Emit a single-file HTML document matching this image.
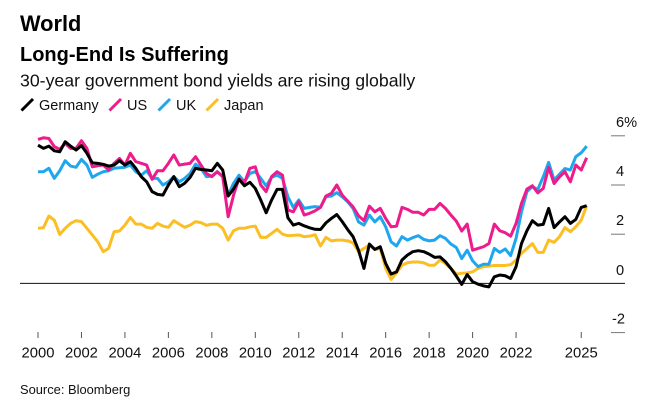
<!DOCTYPE html>
<html lang="en">
<head>
<meta charset="utf-8">
<title>Long-End Is Suffering</title>
<style>
html,body{margin:0;padding:0;background:#fff;width:667px;height:406px;overflow:hidden}
svg{display:block;font-family:"Liberation Sans",Arial,sans-serif}
text{fill:#111}
</style>
</head>
<body>
<svg id="chart" width="667" height="406" viewBox="0 0 667 406" xmlns="http://www.w3.org/2000/svg">
  <rect width="667" height="406" fill="#fff"/>
  <text x="20" y="31" font-size="21.8" font-weight="700" style="fill:#000">World</text>
  <text x="20" y="61" font-size="20" font-weight="700" style="fill:#000">Long-End Is Suffering</text>
  <text x="20" y="86.5" font-size="17.7">30-year government bond yields are rising globally</text>
  <g>
    <line x1="21.5" y1="110.5" x2="33" y2="99" stroke="#000" stroke-width="3"/>
    <text x="39" y="110" font-size="14.5">Germany</text>
    <line x1="109.5" y1="110.5" x2="121" y2="99" stroke="#ee1b8c" stroke-width="3"/>
    <text x="127" y="110" font-size="14.5">US</text>
    <line x1="158.5" y1="110.5" x2="170" y2="99" stroke="#1ea7ee" stroke-width="3"/>
    <text x="176" y="110" font-size="14.5">UK</text>
    <line x1="206.5" y1="110.5" x2="218" y2="99" stroke="#fbbf24" stroke-width="3"/>
    <text x="224" y="110" font-size="14.5">Japan</text>
  </g>
  <text x="20" y="394" font-size="12.9">Source: Bloomberg</text>
  <g id="axes"></g>
  <g id="series"></g>
</svg>
<script>
const startYear = 2000;
const pointsPerYear = 4;
const xTickYears = [2000,2002,2004,2006,2008,2010,2012,2014,2016,2018,2020,2022,2025];
const yTickValues = [6,4,2,-2];
const yTickLabels = ["6%","4","2","-2"];
const germany = [5.62,5.49,5.58,5.39,5.35,5.76,5.58,5.42,5.6,5.29,4.9,4.88,4.84,4.77,4.81,4.99,4.81,4.95,4.68,4.34,4.13,3.73,3.62,3.59,4.0,4.34,3.93,4.07,4.31,4.68,4.63,4.61,4.58,4.88,4.61,3.55,3.84,4.23,3.97,4.11,3.86,3.39,2.87,3.39,3.82,3.82,2.67,2.37,2.44,2.34,2.26,2.2,2.19,2.46,2.64,2.8,2.51,2.19,1.9,1.35,0.61,1.6,1.38,1.49,0.81,0.38,0.47,0.95,1.15,1.29,1.33,1.29,1.19,1.06,1.08,0.88,0.61,0.3,-0.04,0.36,0.07,-0.03,-0.1,-0.14,0.27,0.34,0.31,0.2,0.68,1.62,2.14,2.55,2.37,2.4,3.05,2.27,2.5,2.71,2.44,2.6,3.09,3.16];
const us = [5.85,5.92,5.89,5.56,5.45,5.69,5.49,5.49,5.8,5.49,4.74,4.78,4.81,4.61,4.88,5.08,4.81,5.29,4.95,4.88,4.81,4.23,4.58,4.58,4.88,5.22,4.81,4.85,4.88,5.15,4.81,4.47,4.34,4.54,4.34,2.71,3.59,4.27,4.09,4.68,4.74,4.0,3.73,4.34,4.54,4.4,2.98,2.91,3.32,2.78,2.85,2.95,3.09,3.55,3.66,4.0,3.59,3.35,3.11,2.75,2.55,3.14,2.91,3.05,2.64,2.3,2.33,3.09,3.01,2.89,2.89,2.78,3.01,3.01,3.25,3.05,2.78,2.53,2.13,2.41,1.35,1.42,1.49,1.62,2.41,2.14,2.06,1.92,2.44,3.25,3.83,3.97,3.68,3.86,4.72,4.06,4.33,4.54,4.13,4.81,4.61,5.11];
const uk = [4.54,4.54,4.68,4.27,4.58,4.99,4.77,4.72,5.04,4.81,4.31,4.44,4.54,4.58,4.68,4.7,4.72,4.81,4.54,4.4,4.58,4.27,4.27,4.0,4.13,4.34,4.13,4.27,4.47,4.85,4.68,4.34,4.36,4.54,4.34,3.59,4.07,4.4,4.13,4.47,4.54,4.27,3.96,4.31,4.4,4.27,3.52,3.09,3.39,3.05,3.09,3.12,3.09,3.52,3.55,3.69,3.52,3.32,3.05,2.5,2.37,2.78,2.5,2.71,2.3,1.69,1.52,1.9,1.76,1.86,1.94,1.79,1.73,1.76,1.94,1.83,1.6,1.46,1.01,1.35,0.92,0.68,0.78,0.78,1.42,1.26,1.4,1.13,1.83,2.91,3.73,3.93,3.82,4.33,4.92,4.2,4.44,4.67,4.61,5.15,5.31,5.58];
const japan = [2.24,2.26,2.74,2.57,1.99,2.24,2.44,2.55,2.51,2.24,1.97,1.69,1.29,1.42,2.1,2.13,2.37,2.68,2.41,2.41,2.28,2.24,2.44,2.33,2.28,2.55,2.41,2.28,2.37,2.51,2.47,2.36,2.41,2.41,2.24,1.76,2.14,2.24,2.24,2.3,2.33,1.87,1.87,2.03,2.2,2.0,1.94,1.95,1.97,1.9,1.92,1.98,1.52,1.87,1.73,1.76,1.76,1.73,1.65,1.29,1.42,1.56,1.38,1.42,0.61,0.16,0.43,0.74,0.84,0.87,0.87,0.84,0.74,0.74,0.95,0.81,0.61,0.38,0.41,0.43,0.47,0.61,0.68,0.7,0.73,0.73,0.73,0.76,0.95,1.22,1.42,1.62,1.26,1.26,1.76,1.67,1.9,2.27,2.1,2.3,2.57,3.16];

const NS = "http://www.w3.org/2000/svg";
function xScale(year){ return 38 + (year - startYear) * 21.73; }
function yScale(value){ return 283.4 - value * 24.6; }
function pathFor(values){
  return values.map(function(v, i){
    const year = startYear + i / pointsPerYear;
    return (i ? "L" : "M") + xScale(year).toFixed(2) + " " + yScale(v).toFixed(2);
  }).join(" ");
}

const axes = document.getElementById("axes");
const seriesLayer = document.getElementById("series");

xTickYears.forEach(function(year){
  const tick = document.createElementNS(NS, "line");
  tick.setAttribute("x1", xScale(year));
  tick.setAttribute("x2", xScale(year));
  tick.setAttribute("y1", 332);
  tick.setAttribute("y2", 338);
  tick.setAttribute("stroke", "#555");
  tick.setAttribute("stroke-width", "1");
  
  
  axes.appendChild(tick);
  const label = document.createElementNS(NS, "text");
  label.setAttribute("x", xScale(year));
  label.setAttribute("y", 357.5);
  label.setAttribute("font-size", "14.8");
  label.setAttribute("text-anchor", "middle");
  label.textContent = String(year);
  
  
  axes.appendChild(label);
});

yTickValues.forEach(function(value, i){
  const tick = document.createElementNS(NS, "line");
  tick.setAttribute("x1", 611);
  tick.setAttribute("x2", 625);
  tick.setAttribute("y1", yScale(value));
  tick.setAttribute("y2", yScale(value));
  tick.setAttribute("stroke", "#777");
  tick.setAttribute("stroke-width", "1");
  
  
  axes.appendChild(tick);
  const label = document.createElementNS(NS, "text");
  label.setAttribute("x", value < 0 ? 612 : 616);
  label.setAttribute("y", yScale(value) - 9);
  label.setAttribute("font-size", "14.6");
  label.textContent = yTickLabels[i];
  
  
  axes.appendChild(label);
});

const zeroLabel = document.createElementNS(NS, "text");
zeroLabel.setAttribute("x", 616);
zeroLabel.setAttribute("y", yScale(0) - 8.5);
zeroLabel.setAttribute("font-size", "14.6");
zeroLabel.textContent = "0";


axes.appendChild(zeroLabel);

const zeroLine = document.createElementNS(NS, "line");
zeroLine.setAttribute("x1", 20);
zeroLine.setAttribute("x2", 625);
zeroLine.setAttribute("y1", yScale(0));
zeroLine.setAttribute("y2", yScale(0));
zeroLine.setAttribute("stroke", "#111");
zeroLine.setAttribute("stroke-width", "1");


axes.appendChild(zeroLine);

const japanLine = document.createElementNS(NS, "path");
japanLine.setAttribute("d", pathFor(japan));
japanLine.setAttribute("fill", "none");
japanLine.setAttribute("stroke", "#fbbf24");
japanLine.setAttribute("stroke-width", "3");
japanLine.setAttribute("stroke-linejoin", "round");


seriesLayer.appendChild(japanLine);

const ukLine = document.createElementNS(NS, "path");
ukLine.setAttribute("d", pathFor(uk));
ukLine.setAttribute("fill", "none");
ukLine.setAttribute("stroke", "#1ea7ee");
ukLine.setAttribute("stroke-width", "3");
ukLine.setAttribute("stroke-linejoin", "round");


seriesLayer.appendChild(ukLine);

const usLine = document.createElementNS(NS, "path");
usLine.setAttribute("d", pathFor(us));
usLine.setAttribute("fill", "none");
usLine.setAttribute("stroke", "#ee1b8c");
usLine.setAttribute("stroke-width", "3");
usLine.setAttribute("stroke-linejoin", "round");


seriesLayer.appendChild(usLine);

const germanyLine = document.createElementNS(NS, "path");
germanyLine.setAttribute("d", pathFor(germany));
germanyLine.setAttribute("fill", "none");
germanyLine.setAttribute("stroke", "#000");
germanyLine.setAttribute("stroke-width", "3");
germanyLine.setAttribute("stroke-linejoin", "round");


seriesLayer.appendChild(germanyLine);
</script>
</body>
</html>
